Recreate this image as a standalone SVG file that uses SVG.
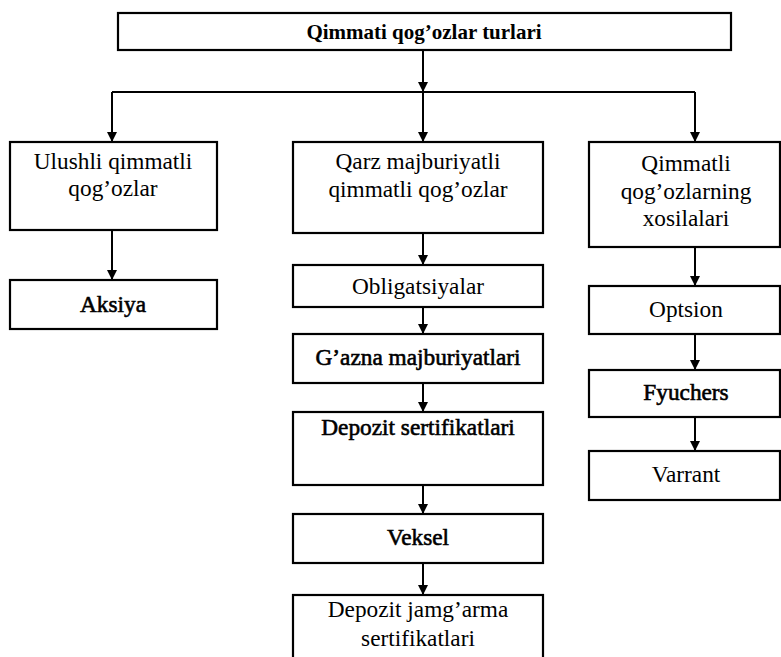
<svg xmlns="http://www.w3.org/2000/svg" width="781" height="657" viewBox="0 0 781 657">
<defs>
<marker id="ah" viewBox="0 0 10 10" refX="10" refY="5" markerWidth="5" markerHeight="5" markerUnits="strokeWidth" orient="auto">
<path d="M0,0 L10,5 L0,10 z" fill="#000"/>
</marker>
<style>
rect{fill:#fff;stroke:#000;stroke-width:2.2}
text{font-family:"Liberation Serif","Times New Roman",serif;font-size:23.3px;text-anchor:middle;fill:#000}
.b{stroke:#000;stroke-width:0.6}
.t{font-weight:bold;font-size:21px}
.c line{stroke:#000;stroke-width:2;fill:none}
.c .a{marker-end:url(#ah)}
</style>
</defs>
<rect width="781" height="657" style="fill:#fff;stroke:none"/>
<g class="c" id="connectors">
<line class="a" x1="423" y1="50" x2="423" y2="92"/>
<line x1="112" y1="92" x2="695" y2="92"/>
<line class="a" x1="112" y1="92" x2="112" y2="142"/>
<line class="a" x1="423" y1="92" x2="423" y2="142"/>
<line class="a" x1="695" y1="92" x2="695" y2="142"/>
<line class="a" x1="112" y1="230" x2="112" y2="280"/>
<line class="a" x1="423" y1="233" x2="423" y2="265"/>
<line class="a" x1="423" y1="307" x2="423" y2="334"/>
<line class="a" x1="423" y1="383" x2="423" y2="412"/>
<line class="a" x1="423" y1="485" x2="423" y2="514"/>
<line class="a" x1="423" y1="563" x2="423" y2="595"/>
<line class="a" x1="695" y1="247" x2="695" y2="286"/>
<line class="a" x1="695" y1="334" x2="695" y2="370"/>
<line class="a" x1="695" y1="417" x2="695" y2="451"/>
</g>
<g id="root"><rect x="118" y="13" width="613" height="37"/><text class="t" x="424" y="39">Qimmati qog’ozlar turlari</text></g>
<g id="ulushli"><rect x="10" y="142" width="207" height="88"/><text x="113" y="169">Ulushli qimmatli</text><text x="113" y="196">qog’ozlar</text></g>
<g id="aksiya"><rect x="10" y="280" width="207" height="49"/><text class="b" x="113" y="312">Aksiya</text></g>
<g id="qarz"><rect x="293" y="142" width="250" height="91"/><text x="418" y="169">Qarz majburiyatli</text><text x="418" y="197">qimmatli qog’ozlar</text></g>
<g id="obligatsiyalar"><rect x="293" y="265" width="250" height="42"/><text x="418" y="294">Obligatsiyalar</text></g>
<g id="gazna"><rect x="293" y="334" width="250" height="49"/><text class="b" x="418" y="365">G’azna majburiyatlari</text></g>
<g id="depozit"><rect x="293" y="412" width="250" height="73"/><text class="b" x="418" y="435">Depozit sertifikatlari</text></g>
<g id="veksel"><rect x="293" y="514" width="250" height="49"/><text class="b" x="418" y="545">Veksel</text></g>
<g id="jamgarma"><rect x="293" y="595" width="250" height="70"/><text x="418" y="617">Depozit jamg’arma</text><text x="418" y="646">sertifikatlari</text></g>
<g id="xosilalar"><rect x="589" y="142" width="191" height="105"/><text x="686" y="171">Qimmatli</text><text x="686" y="199">qog’ozlarning</text><text x="686" y="226">xosilalari</text></g>
<g id="optsion"><rect x="589" y="286" width="191" height="48"/><text x="686" y="317">Optsion</text></g>
<g id="fyuchers"><rect x="589" y="370" width="191" height="47"/><text class="b" x="686" y="400">Fyuchers</text></g>
<g id="varrant"><rect x="589" y="451" width="191" height="49"/><text x="686" y="482">Varrant</text></g>
</svg>
